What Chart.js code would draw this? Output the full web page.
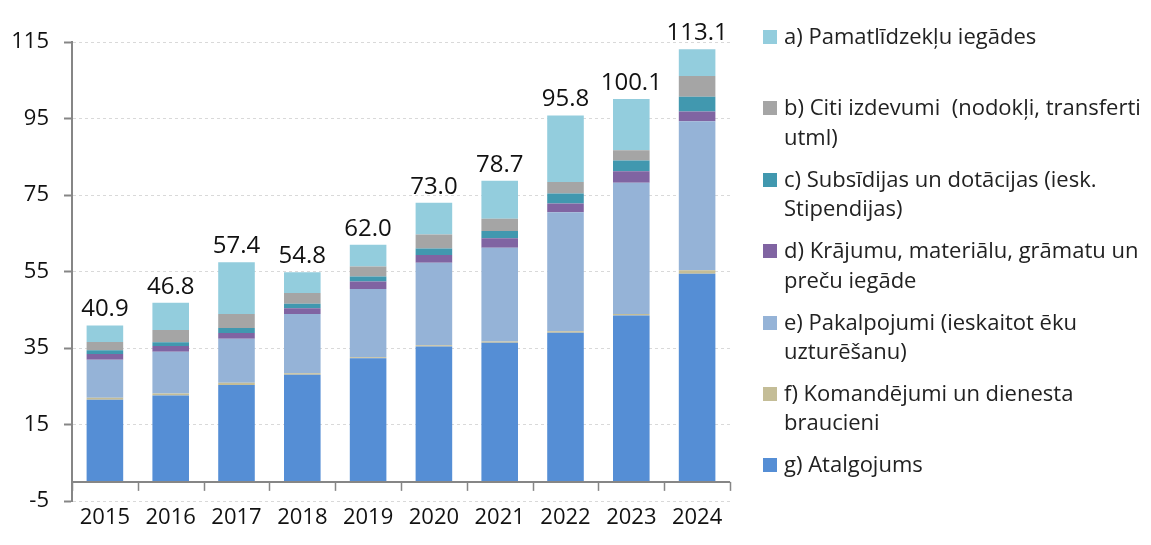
<!DOCTYPE html>
<html lang="lv">
<head>
<meta charset="UTF-8">
<title>Izdevumi</title>
<script src="https://cdn.jsdelivr.net/npm/chart.js@4"></script>
<style>
  body { margin: 0; background: #fff; font-family: "Open Sans", sans-serif; }
  #wrap { position: relative; width: 1151px; height: 545px; }
  #legend { position: absolute; left: 763px; top: 21px; width: 388px; }
  .item { height: 71.4px; display: flex; align-items: flex-start; }
  .box { width: 14px; height: 14px; margin-top: 9px; margin-right: 7px; flex: none; }
  .txt { font-size: 22px; line-height: 29.5px; color: #222; white-space: pre; }
</style>
</head>
<body>
<div id="wrap">
  <canvas id="grafiks" width="1151" height="545"></canvas>
  <div id="legend"></div>
</div>
<script>
// gadi un kopsummas virs stabiņiem
const gadi = ['2015', '2016', '2017', '2018', '2019', '2020', '2021', '2022', '2023', '2024'];
const kopa = [40.9, 46.8, 57.4, 54.8, 62.0, 73.0, 78.7, 95.8, 100.1, 113.1];

// sērijas (a - augšā, g - apakšā)
const pamatlidzekli = [4.3, 7.1, 13.5, 5.4, 5.7, 8.3, 9.9, 17.4, 13.4, 7.0];
const citi         = [2.2, 3.2, 3.7, 2.8, 2.6, 3.7, 3.2, 3.0, 2.7, 5.4];
const subsidijas   = [1.0, 1.0, 1.3, 1.2, 1.3, 1.7, 1.9, 2.6, 2.8, 3.9];
const krajumi      = [1.5, 1.5, 1.5, 1.5, 2.0, 2.0, 2.5, 2.3, 3.0, 2.5];
const pakalpojumi  = [9.9, 10.9, 11.5, 15.5, 17.8, 21.6, 24.5, 31.1, 34.3, 39.0];
const komandejumi  = [0.5, 0.5, 0.6, 0.4, 0.3, 0.3, 0.3, 0.4, 0.4, 0.9];
const atalgojums   = [21.5, 22.6, 25.3, 28.0, 32.3, 35.4, 36.4, 39.0, 43.5, 54.4];

const nosaukumi = [
  ['a) Pamatlīdzekļu iegādes'],
  ['b) Citi izdevumi  (nodokļi, transferti', 'utml)'],
  ['c) Subsīdijas un dotācijas (iesk.', 'Stipendijas)'],
  ['d) Krājumu, materiālu, grāmatu un', 'preču iegāde'],
  ['e) Pakalpojumi (ieskaitot ēku', 'uzturēšanu)'],
  ['f) Komandējumi un dienesta', 'braucieni'],
  ['g) Atalgojums']
];
const krasas = ['#93CDDD', '#A5A5A5', '#4198AF', '#8064A2', '#95B3D7', '#C4BD97', '#558ED5'];
const serijas = [pamatlidzekli, citi, subsidijas, krajumi, pakalpojumi, komandejumi, atalgojums];

const FONT = '"Open Sans", sans-serif';
const ASS = '#868686';

// datu kopas no apakšas uz augšu
const datasets = [];
for (let i = serijas.length - 1; i >= 0; i--) {
  datasets.push({
    label: nosaukumi[i].join(' '),
    data: serijas[i],
    backgroundColor: krasas[i],
    borderWidth: 0,
    categoryPercentage: 1,
    barPercentage: 0.556
  });
}

// nulles ass ar iedaļām un kopsummas virs stabiņiem
const papildus = {
  id: 'papildus',
  afterDatasetsDraw(chart) {
    const ctx = chart.ctx;
    const x = chart.scales.x, y = chart.scales.y;
    const y0 = y.getPixelForValue(0);
    ctx.save();
    ctx.strokeStyle = ASS;
    ctx.lineWidth = 2;
    ctx.beginPath();
    ctx.moveTo(x.left, y0);
    ctx.lineTo(x.right, y0);
    ctx.stroke();
    ctx.lineWidth = 1.5;
    for (let i = 0; i <= gadi.length; i++) {
      const px = Math.round(x.getPixelForValue(i - 0.5)) + 0.5;
      ctx.beginPath();
      ctx.moveTo(px, y0);
      ctx.lineTo(px, y0 + 9);
      ctx.stroke();
    }
    ctx.fillStyle = '#111';
    ctx.font = '24px ' + FONT;
    ctx.textAlign = 'center';
    ctx.textBaseline = 'alphabetic';
    kopa.forEach((v, i) => {
      ctx.fillText(v.toFixed(1), x.getPixelForValue(i), y.getPixelForValue(v) - 9);
    });
    ctx.restore();
  }
};

new Chart(document.getElementById('grafiks'), {
  type: 'bar',
  data: { labels: gadi, datasets: datasets },
  options: {
    responsive: false,
    animation: false,
    layout: { padding: { top: 42, left: 8, right: 421, bottom: 0 } },
    plugins: { legend: { display: false }, tooltip: { enabled: false } },
    scales: {
      x: {
        stacked: true,
        border: { display: false },
        grid: { display: false, drawTicks: false },
        ticks: { padding: 4, color: '#111', font: { family: FONT, size: 22 } },
        afterFit: s => { s.height = 44; }
      },
      y: {
        stacked: true,
        min: -5,
        max: 115,
        border: { display: true, color: ASS, width: 2, dash: [3, 3] },
        grid: { color: '#D9D9D9', lineWidth: 1, tickLength: 8, tickColor: ASS, tickWidth: 2, tickBorderDash: [] },
        ticks: { stepSize: 20, padding: 15, color: '#111', font: { family: FONT, size: 22 } },
        afterFit: s => { s.width = 64; }
      }
    }
  },
  plugins: [papildus]
});

// leģenda
const leg = document.getElementById('legend');
nosaukumi.forEach((rindas, i) => {
  const it = document.createElement('div');
  it.className = 'item';
  const b = document.createElement('div');
  b.className = 'box';
  b.style.background = krasas[i];
  const t = document.createElement('div');
  t.className = 'txt';
  t.textContent = rindas.join('\n');
  it.appendChild(b);
  it.appendChild(t);
  leg.appendChild(it);
});
</script>
</body>
</html>
